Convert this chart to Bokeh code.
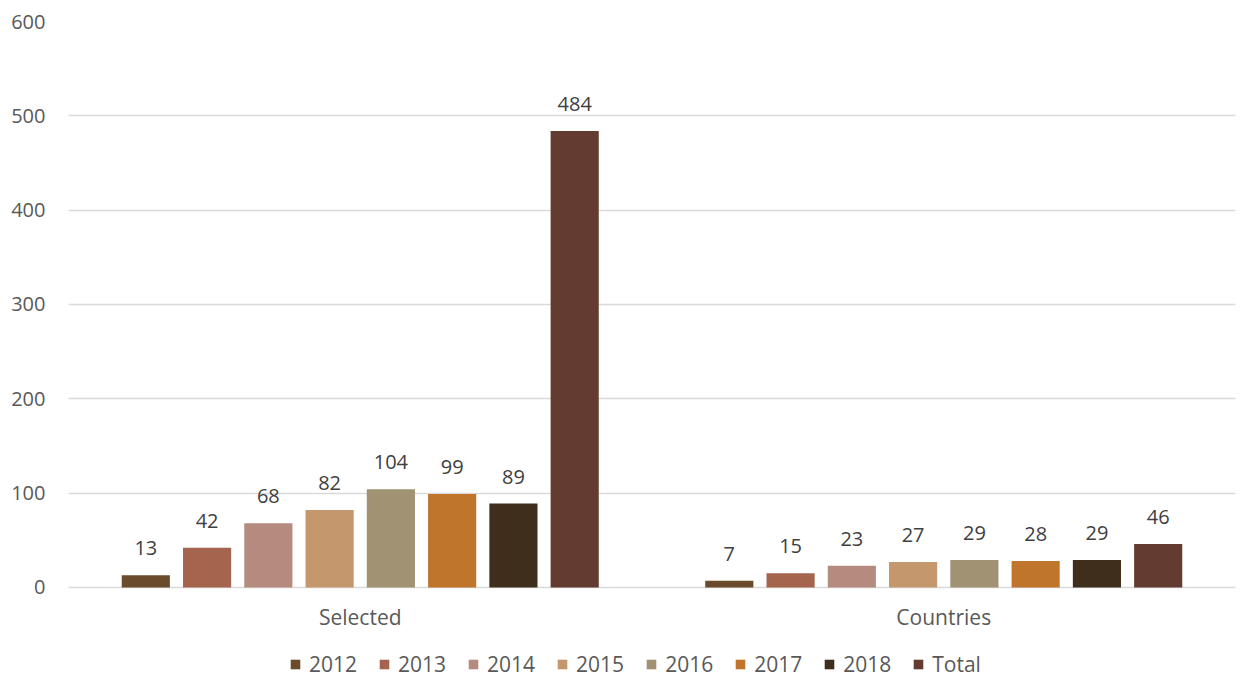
from bokeh.plotting import figure
from bokeh.models import ColumnDataSource, FactorRange, Range1d, FixedTicker
from bokeh.transform import dodge
from bokeh.core.properties import value
from bokeh.embed import file_html
from bokeh.resources import INLINE

categories = ["Selected", "Countries"]
series_names = ["2012", "2013", "2014", "2015", "2016", "2017", "2018", "Total"]
values_2012 = [13, 7]
values_2013 = [42, 15]
values_2014 = [68, 23]
values_2015 = [82, 27]
values_2016 = [104, 29]
values_2017 = [99, 28]
values_2018 = [89, 29]
values_total = [484, 46]
y_ticks = [0, 100, 200, 300, 400, 500, 600]

series_values = [values_2012, values_2013, values_2014, values_2015,
                 values_2016, values_2017, values_2018, values_total]
colors = ["#6A4B2B", "#A5644E", "#B58A7F", "#C4976C", "#A09272", "#C0752C", "#3F2E1C", "#633B30"]

FONT = "Open Sans"

# frame extends below zero to hold category labels and the legend
p = figure(x_range=FactorRange(*categories, range_padding=0), y_range=Range1d(-96.5, 600),
           width=1240, height=678, output_backend="svg", toolbar_location=None,
           x_axis_location=None,
           min_border_left=68, min_border_right=5, min_border_top=21, min_border_bottom=0)
p.outline_line_color = None
p.background_fill_color = "white"
p.border_fill_color = "white"

step = 0.105
bar_w = 0.0825
for i, (name, vals, col) in enumerate(zip(series_names, series_values, colors)):
    src = ColumnDataSource(dict(x=categories, y=vals, lab=[str(v) for v in vals]))
    off = (i - 3.5) * step
    p.vbar(x=dodge("x", off, range=p.x_range), top="y", width=bar_w, source=src,
           fill_color=col, line_color=None, legend_label=name)
    p.text(x=dodge("x", off, range=p.x_range), y="y", text="lab", source=src,
           text_align="center", text_baseline="bottom", y_offset=-20,
           text_font=value(FONT), text_font_size="20px", text_color="#404040")

# category labels under the zero baseline
cat_src = ColumnDataSource(dict(x=categories, y=[0] * len(categories), lab=categories))
p.text(x="x", y="y", text="lab", source=cat_src, text_align="center", text_baseline="middle",
       y_offset=30, text_font=value(FONT), text_font_size="21px", text_color="#595959")

p.xgrid.grid_line_color = None
p.ygrid.grid_line_color = "#D9D9D9"
p.ygrid.grid_line_width = 1.3
p.ygrid.ticker = FixedTicker(ticks=y_ticks)
p.yaxis.ticker = FixedTicker(ticks=y_ticks)
p.yaxis.axis_line_color = None
p.yaxis.major_tick_line_color = None
p.yaxis.minor_tick_line_color = None
p.yaxis.major_tick_out = 0
p.yaxis.major_tick_in = 0
p.yaxis.major_label_standoff = 23
p.yaxis.major_label_text_font = FONT
p.yaxis.major_label_text_font_size = "20px"
p.yaxis.major_label_text_color = "#595959"

leg = p.legend[0]
leg.orientation = "horizontal"
leg.location = (221, 0)
leg.label_text_font = FONT
leg.label_text_font_size = "21px"
leg.label_text_color = "#595959"
leg.glyph_width = 12
leg.glyph_height = 12
leg.label_standoff = 8
leg.spacing = 21
leg.padding = 0
leg.margin = 0
leg.border_line_color = None
leg.background_fill_alpha = 0

open("out.html", "w").write(file_html(p, INLINE))
